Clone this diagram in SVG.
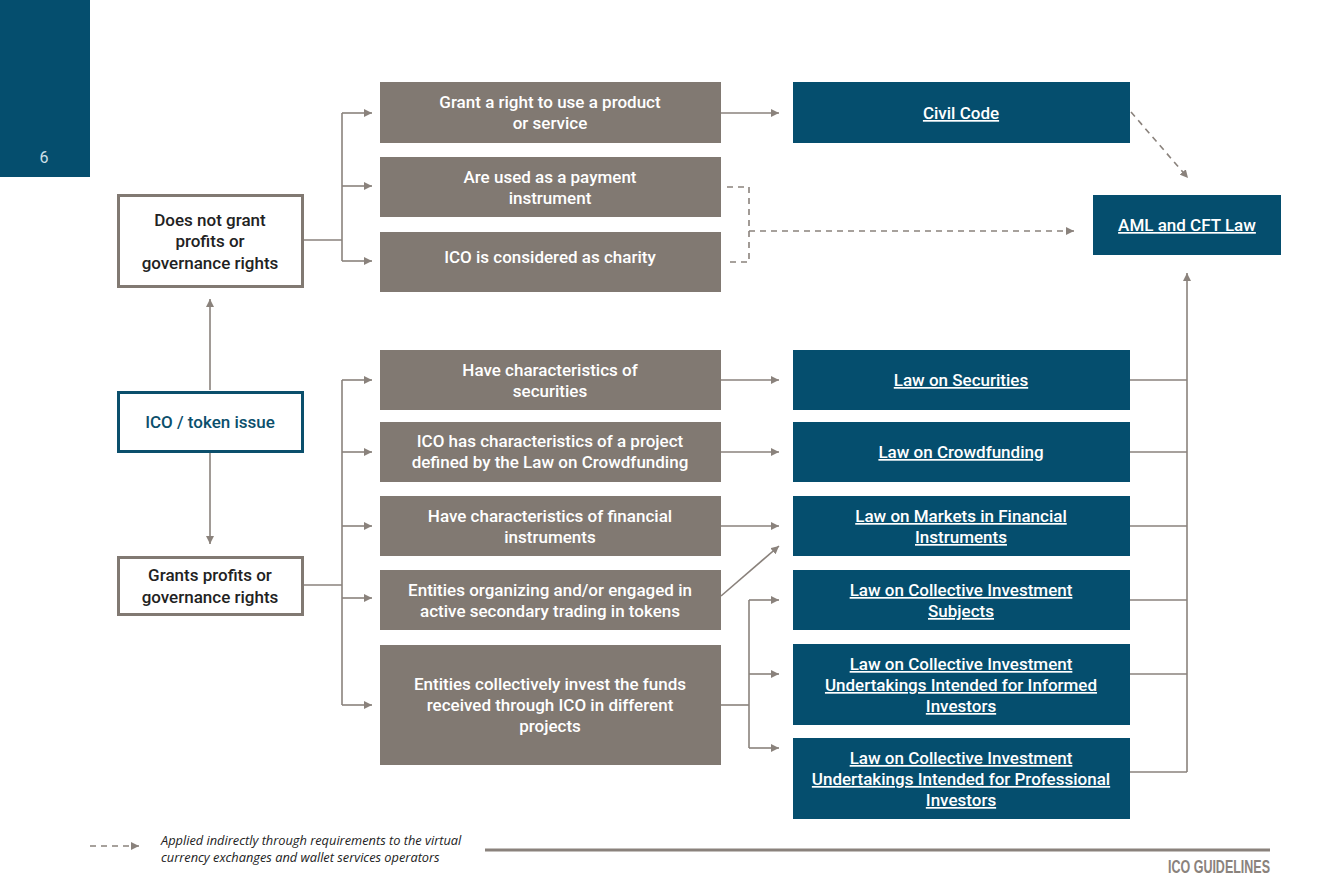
<svg xmlns="http://www.w3.org/2000/svg" width="1325" height="885" viewBox="0 0 1325 885">
<style>
.gbox{fill:#817972}
.bbox{fill:#054E6E}
.wbox{fill:#fff;stroke:#817972;stroke-width:3}
.wboxb{fill:#fff;stroke:#0B4F6C;stroke-width:3}
.t{font-family:Roboto,"Liberation Sans",sans-serif;font-weight:500;font-size:17px;text-anchor:middle}
.tw{fill:#fff}
.tb{fill:#fff;text-decoration:underline}
.td{fill:#222}
.line{fill:none;stroke:#8A827C;stroke-width:1.6}
.dash{fill:none;stroke:#8A827C;stroke-width:1.6;stroke-dasharray:6 5}
</style>
<defs>
<marker id="ah" viewBox="0 0 10 10" refX="10" refY="5" markerWidth="8" markerHeight="8" markerUnits="userSpaceOnUse" orient="auto">
<path d="M0,0 L10,5 L0,10 z" fill="#8A827C"/>
</marker>
</defs>
<rect x="0" y="0" width="90" height="177" fill="#054E6E"/>
<text x="44" y="163" font-family="Roboto,'Liberation Sans',sans-serif" font-size="16" fill="#cfe0e8" text-anchor="middle">6</text>

<g id="connectors">
<polyline class="line" points="303,240 342,240"/>
<polyline class="line" points="342,113 342,261"/>
<line class="line" x1="342" y1="113" x2="372" y2="113" marker-end="url(#ah)"/>
<line class="line" x1="342" y1="186" x2="372" y2="186" marker-end="url(#ah)"/>
<line class="line" x1="342" y1="261" x2="372" y2="261" marker-end="url(#ah)"/>
<line class="line" x1="210" y1="390" x2="210" y2="299" marker-end="url(#ah)"/>
<line class="line" x1="210" y1="453" x2="210" y2="544" marker-end="url(#ah)"/>
<polyline class="line" points="303,585 342,585"/>
<polyline class="line" points="342,380 342,705"/>
<line class="line" x1="342" y1="380" x2="372" y2="380" marker-end="url(#ah)"/>
<line class="line" x1="342" y1="452" x2="372" y2="452" marker-end="url(#ah)"/>
<line class="line" x1="342" y1="526" x2="372" y2="526" marker-end="url(#ah)"/>
<line class="line" x1="342" y1="598" x2="372" y2="598" marker-end="url(#ah)"/>
<line class="line" x1="342" y1="705" x2="372" y2="705" marker-end="url(#ah)"/>
<line class="line" x1="721" y1="113" x2="779" y2="113" marker-end="url(#ah)"/>
<line class="line" x1="721" y1="380" x2="779" y2="380" marker-end="url(#ah)"/>
<line class="line" x1="721" y1="452" x2="779" y2="452" marker-end="url(#ah)"/>
<line class="line" x1="721" y1="526" x2="779" y2="526" marker-end="url(#ah)"/>
<line class="line" x1="721" y1="596" x2="779" y2="546" marker-end="url(#ah)"/>
<polyline class="line" points="721,705 749,705"/>
<polyline class="line" points="749,600 749,748"/>
<line class="line" x1="749" y1="600" x2="779" y2="600" marker-end="url(#ah)"/>
<line class="line" x1="749" y1="674" x2="779" y2="674" marker-end="url(#ah)"/>
<line class="line" x1="749" y1="748" x2="779" y2="748" marker-end="url(#ah)"/>
<polyline class="dash" points="727,187 749,187 749,262 727,262"/>
<line class="dash" x1="749" y1="231" x2="1074" y2="231" marker-end="url(#ah)"/>
<line class="dash" x1="1131" y1="112" x2="1188" y2="178" marker-end="url(#ah)"/>
<polyline class="line" points="1130,380 1187,380"/>
<polyline class="line" points="1130,452 1187,452"/>
<polyline class="line" points="1130,526 1187,526"/>
<polyline class="line" points="1130,600 1187,600"/>
<polyline class="line" points="1130,674 1187,674"/>
<polyline class="line" points="1130,772 1187,772"/>
<line class="line" x1="1187" y1="772" x2="1187" y2="273" marker-end="url(#ah)"/>
</g>

<g id="n-does-not-grant">
<rect class="wbox" x="118.5" y="195.5" width="184" height="91"/>
<text class="t td" x="210" y="226">Does not grant</text>
<text class="t td" x="210" y="247">profits or</text>
<text class="t td" x="210" y="269">governance rights</text>
</g>
<g id="n-ico">
<rect class="wboxb" x="118.5" y="392.5" width="184" height="59"/>
<text class="t" x="210" y="428" fill="#0B4F6C">ICO / token issue</text>
</g>
<g id="n-grants">
<rect class="wbox" x="118.5" y="557.5" width="184" height="57"/>
<text class="t td" x="210" y="581">Grants profits or</text>
<text class="t td" x="210" y="603">governance rights</text>
</g>

<g id="g1"><rect class="gbox" x="380" y="82" width="341" height="61"/>
<text class="t tw" x="550" y="108">Grant a right to use a product</text>
<text class="t tw" x="550" y="129">or service</text></g>
<g id="g2"><rect class="gbox" x="380" y="157" width="341" height="60"/>
<text class="t tw" x="550" y="183">Are used as a payment</text>
<text class="t tw" x="550" y="204">instrument</text></g>
<g id="g3"><rect class="gbox" x="380" y="232" width="341" height="60"/>
<text class="t tw" x="550" y="263">ICO is considered as charity</text></g>
<g id="g4"><rect class="gbox" x="380" y="350" width="341" height="60"/>
<text class="t tw" x="550" y="376">Have characteristics of</text>
<text class="t tw" x="550" y="397">securities</text></g>
<g id="g5"><rect class="gbox" x="380" y="422" width="341" height="60"/>
<text class="t tw" x="550" y="447">ICO has characteristics of a project</text>
<text class="t tw" x="550" y="468">defined by the Law on Crowdfunding</text></g>
<g id="g6"><rect class="gbox" x="380" y="496" width="341" height="60"/>
<text class="t tw" x="550" y="522">Have characteristics of financial</text>
<text class="t tw" x="550" y="543">instruments</text></g>
<g id="g7"><rect class="gbox" x="380" y="570" width="341" height="60"/>
<text class="t tw" x="550" y="596">Entities organizing and/or engaged in</text>
<text class="t tw" x="550" y="617">active secondary trading in tokens</text></g>
<g id="g8"><rect class="gbox" x="380" y="645" width="341" height="120"/>
<text class="t tw" x="550" y="690">Entities collectively invest the funds</text>
<text class="t tw" x="550" y="711">received through ICO in different</text>
<text class="t tw" x="550" y="732">projects</text></g>

<g id="b-civil"><rect class="bbox" x="793" y="82" width="337" height="61"/>
<text class="t tb" x="961" y="119">Civil Code</text></g>
<g id="b-aml"><rect class="bbox" x="1093" y="195" width="188" height="60"/>
<text class="t tb" x="1187" y="231">AML and CFT Law</text></g>
<g id="b-sec"><rect class="bbox" x="793" y="350" width="337" height="60"/>
<text class="t tb" x="961" y="386">Law on Securities</text></g>
<g id="b-crowd"><rect class="bbox" x="793" y="422" width="337" height="60"/>
<text class="t tb" x="961" y="458">Law on Crowdfunding</text></g>
<g id="b-mifi"><rect class="bbox" x="793" y="496" width="337" height="60"/>
<text class="t tb" x="961" y="522">Law on Markets in Financial</text>
<text class="t tb" x="961" y="543">Instruments</text></g>
<g id="b-cis"><rect class="bbox" x="793" y="570" width="337" height="60"/>
<text class="t tb" x="961" y="596">Law on Collective Investment</text>
<text class="t tb" x="961" y="617">Subjects</text></g>
<g id="b-inf"><rect class="bbox" x="793" y="644" width="337" height="81"/>
<text class="t tb" x="961" y="670">Law on Collective Investment</text>
<text class="t tb" x="961" y="691">Undertakings Intended for Informed</text>
<text class="t tb" x="961" y="712">Investors</text></g>
<g id="b-pro"><rect class="bbox" x="793" y="738" width="337" height="81"/>
<text class="t tb" x="961" y="764">Law on Collective Investment</text>
<text class="t tb" x="961" y="785">Undertakings Intended for Professional</text>
<text class="t tb" x="961" y="806">Investors</text></g>

<g id="legend">
<line class="dash" x1="90" y1="846" x2="139" y2="846" stroke-dasharray="5 5" marker-end="url(#ah)"/>
<text x="161" y="845" font-family="'Open Sans','Liberation Sans',sans-serif" font-style="italic" font-size="12.8" fill="#222">Applied indirectly through requirements to the virtual</text>
<text x="161" y="862" font-family="'Open Sans','Liberation Sans',sans-serif" font-style="italic" font-size="12.8" fill="#222">currency exchanges and wallet services operators</text>
<line x1="485" y1="850" x2="1270" y2="850" stroke="#8A827C" stroke-width="3"/>
<text x="1168" y="873" font-family="'Liberation Sans',sans-serif" font-weight="bold" font-size="19" fill="#8A827C" textLength="102" lengthAdjust="spacingAndGlyphs">ICO GUIDELINES</text>
</g>
</svg>
